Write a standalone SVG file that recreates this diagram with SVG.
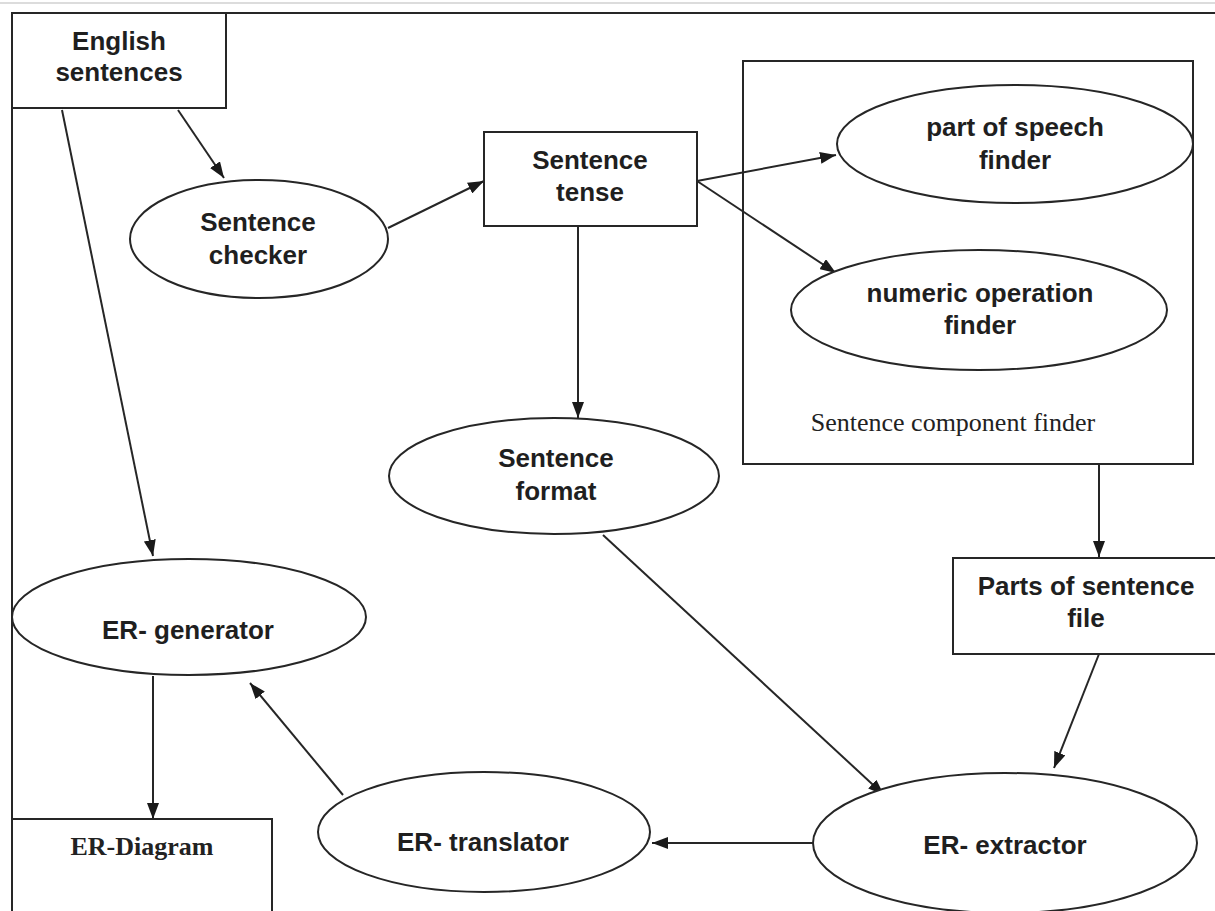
<svg xmlns="http://www.w3.org/2000/svg" width="1215" height="911" viewBox="0 0 1215 911">
  <style>
    .shape { fill: #ffffff; stroke: #262626; stroke-width: 2; }
    .frame { fill: none; stroke: #262626; stroke-width: 2; }
    .edge { fill: none; stroke: #262626; stroke-width: 2; marker-end: url(#arrow); }
    .lbl { font-family: "Liberation Sans", Arial, sans-serif; font-weight: bold; font-size: 26px; fill: #1f1f1f; text-anchor: middle; }
    .serif { font-family: "Liberation Serif", "Times New Roman", serif; font-size: 26px; fill: #222222; text-anchor: middle; }
  </style>
  <defs>
    <marker id="arrow" viewBox="0 0 16 12" refX="16" refY="6" markerWidth="16" markerHeight="12" markerUnits="userSpaceOnUse" orient="auto">
      <path d="M0,0 L16,6 L0,12 z" fill="#1a1a1a"/>
    </marker>
  </defs>
  <rect width="1215" height="911" fill="#ffffff"/>

  <!-- page edge and outer frame -->
  <line x1="0" y1="3" x2="1215" y2="3" stroke="#dcdcdc" stroke-width="2"/>
  <path class="frame" d="M12,911 L12,13 L1215,13"/>

  <!-- connectors -->
  <g id="connectors">
    <line class="edge" x1="178" y1="110" x2="224" y2="178"/>
    <line class="edge" x1="388" y1="228" x2="484" y2="181"/>
    <line class="edge" x1="697" y1="181" x2="836" y2="155"/>
    <line class="edge" x1="697" y1="181" x2="836" y2="273"/>
    <line class="edge" x1="578" y1="226" x2="578" y2="418"/>
    <line class="edge" x1="1099" y1="464" x2="1099" y2="557"/>
    <line class="edge" x1="603" y1="535" x2="884" y2="795"/>
    <line class="edge" x1="1099" y1="654" x2="1054" y2="768"/>
    <line class="edge" x1="813" y1="843" x2="652" y2="843"/>
    <line class="edge" x1="343" y1="795" x2="250" y2="683"/>
    <line class="edge" x1="62" y1="110" x2="153" y2="556"/>
    <line class="edge" x1="153" y1="676" x2="153" y2="819"/>
  </g>

  <g id="english-sentences">
    <rect class="shape" x="12" y="13" width="214" height="95"/>
    <text class="lbl" x="119" y="50">English</text>
    <text class="lbl" x="119" y="81">sentences</text>
  </g>

  <g id="sentence-checker">
    <ellipse class="shape" cx="259" cy="239" rx="129" ry="59"/>
    <text class="lbl" x="258" y="231">Sentence</text>
    <text class="lbl" x="258" y="264">checker</text>
  </g>

  <g id="sentence-tense">
    <rect class="shape" x="484" y="132" width="213" height="94"/>
    <text class="lbl" x="590" y="169">Sentence</text>
    <text class="lbl" x="590" y="201">tense</text>
  </g>

  <g id="sentence-component-finder">
    <rect class="frame" x="743" y="61" width="450" height="403"/>
    <text class="serif" x="953" y="431">Sentence component finder</text>
  </g>

  <g id="part-of-speech-finder">
    <ellipse class="shape" cx="1015" cy="144" rx="178" ry="59"/>
    <text class="lbl" x="1015" y="136">part of speech</text>
    <text class="lbl" x="1015" y="169">finder</text>
  </g>

  <g id="numeric-operation-finder">
    <ellipse class="shape" cx="979" cy="310" rx="188" ry="60"/>
    <text class="lbl" x="980" y="302">numeric operation</text>
    <text class="lbl" x="980" y="334">finder</text>
  </g>

  <g id="sentence-format">
    <ellipse class="shape" cx="554" cy="476" rx="165" ry="58"/>
    <text class="lbl" x="556" y="467">Sentence</text>
    <text class="lbl" x="556" y="500">format</text>
  </g>

  <g id="parts-of-sentence-file">
    <rect class="shape" x="953" y="558" width="270" height="96"/>
    <text class="lbl" x="1086" y="595">Parts of sentence</text>
    <text class="lbl" x="1086" y="627">file</text>
  </g>

  <g id="er-generator">
    <ellipse class="shape" cx="189" cy="617" rx="177" ry="58"/>
    <text class="lbl" x="188" y="639" font-size="27">ER- generator</text>
  </g>

  <g id="er-translator">
    <ellipse class="shape" cx="484" cy="832" rx="166" ry="60"/>
    <text class="lbl" x="483" y="851">ER- translator</text>
  </g>

  <g id="er-extractor">
    <ellipse class="shape" cx="1005" cy="843" rx="192" ry="70"/>
    <text class="lbl" x="1005" y="854">ER- extractor</text>
  </g>

  <g id="er-diagram">
    <rect class="shape" x="12" y="819" width="260" height="100"/>
    <text class="serif" x="142" y="855" font-weight="bold">ER-Diagram</text>
  </g>
</svg>
